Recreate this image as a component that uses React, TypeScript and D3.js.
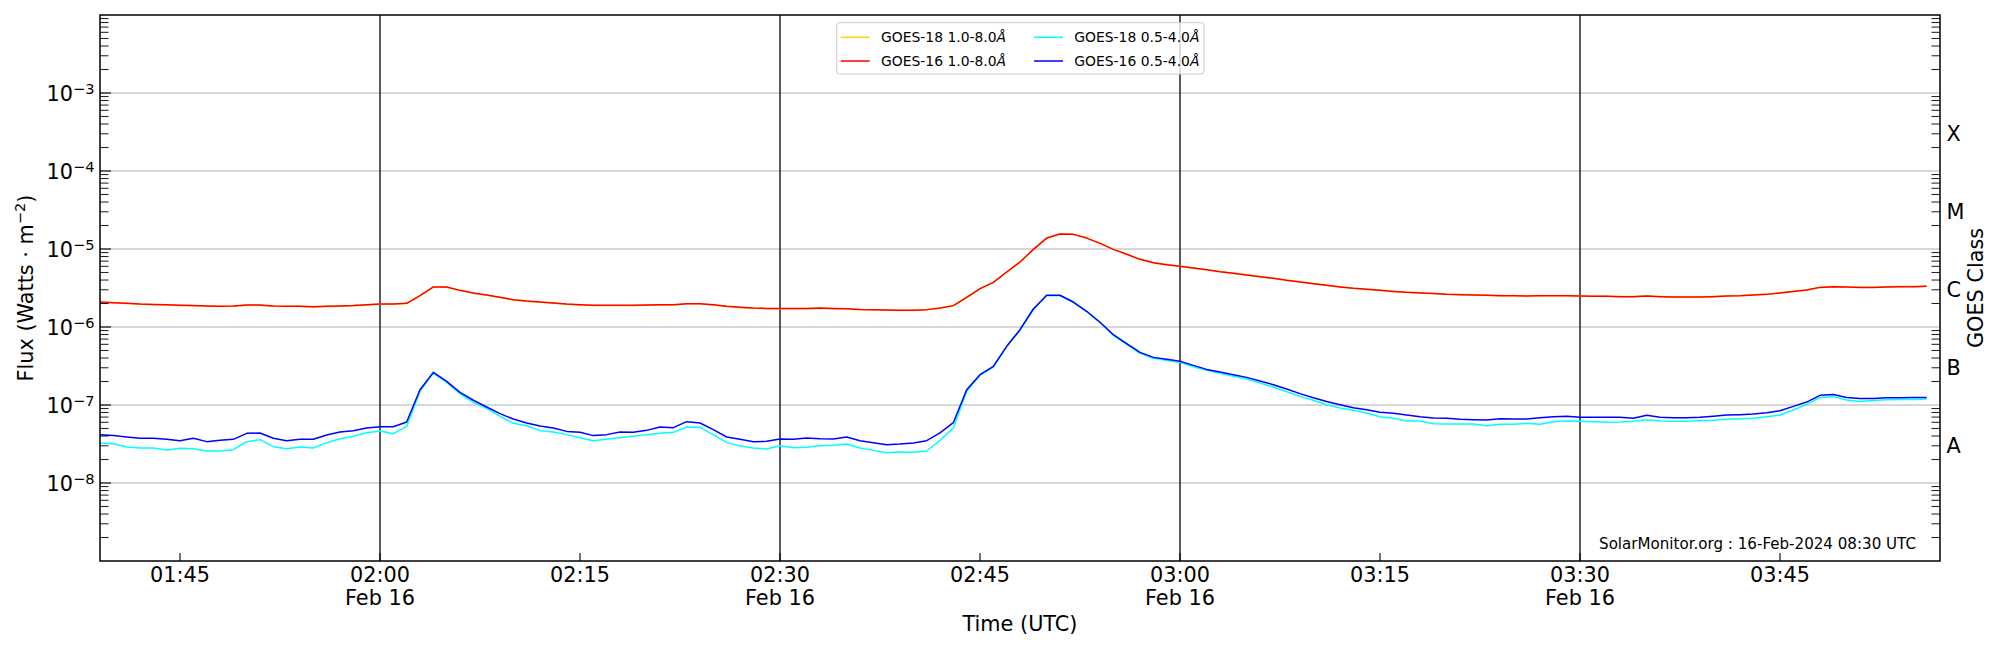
import React from "react";
import * as d3 from "d3";

// ---------- data (1-minute cadence starting 01:39 UTC, 16 Feb 2024) ----------
const START = "2024-02-16T01:39:00Z";
const DOMAIN_START = "2024-02-16T01:39:00Z";
const DOMAIN_END = "2024-02-16T03:57:00Z";

const goes18Long = [
  2.07e-6, 2.04e-6, 2.0e-6, 1.96e-6, 1.94e-6, 1.92e-6, 1.89e-6, 1.87e-6, 1.85e-6, 1.83e-6,
  1.85e-6, 1.9e-6, 1.9e-6, 1.85e-6, 1.83e-6, 1.83e-6, 1.81e-6, 1.83e-6, 1.85e-6, 1.87e-6,
  1.92e-6, 1.96e-6, 1.96e-6, 2.0e-6, 2.5e-6, 3.24e-6, 3.24e-6, 2.93e-6, 2.71e-6, 2.55e-6,
  2.38e-6, 2.22e-6, 2.14e-6, 2.08e-6, 2.02e-6, 1.96e-6, 1.92e-6, 1.89e-6, 1.89e-6, 1.89e-6,
  1.89e-6, 1.9e-6, 1.92e-6, 1.92e-6, 1.98e-6, 1.98e-6, 1.92e-6, 1.83e-6, 1.78e-6, 1.74e-6,
  1.72e-6, 1.72e-6, 1.72e-6, 1.72e-6, 1.74e-6, 1.72e-6, 1.71e-6, 1.67e-6, 1.66e-6, 1.64e-6,
  1.63e-6, 1.63e-6, 1.66e-6, 1.74e-6, 1.87e-6, 2.38e-6, 3.08e-6, 3.72e-6, 5.04e-6, 6.78e-6,
  9.85e-6, 1.37e-5, 1.57e-5, 1.55e-5, 1.39e-5, 1.19e-5, 9.95e-6, 8.6e-6, 7.4e-6, 6.7e-6,
  6.32e-6, 6.0e-6, 5.72e-6, 5.44e-6, 5.13e-6, 4.89e-6, 4.65e-6, 4.43e-6, 4.22e-6, 3.98e-6,
  3.79e-6, 3.6e-6, 3.43e-6, 3.27e-6, 3.14e-6, 3.05e-6, 2.96e-6, 2.87e-6, 2.79e-6, 2.74e-6,
  2.69e-6, 2.63e-6, 2.61e-6, 2.58e-6, 2.56e-6, 2.53e-6, 2.53e-6, 2.51e-6, 2.53e-6, 2.53e-6,
  2.53e-6, 2.51e-6, 2.48e-6, 2.48e-6, 2.46e-6, 2.46e-6, 2.51e-6, 2.46e-6, 2.43e-6, 2.43e-6,
  2.43e-6, 2.46e-6, 2.51e-6, 2.53e-6, 2.58e-6, 2.63e-6, 2.74e-6, 2.87e-6, 2.99e-6, 3.23e-6,
  3.3e-6, 3.27e-6, 3.23e-6, 3.23e-6, 3.27e-6, 3.3e-6, 3.3e-6, 3.33e-6,
];

const goes16Long = [
  2.09e-6, 2.05e-6, 2.01e-6, 1.97e-6, 1.95e-6, 1.93e-6, 1.9e-6, 1.88e-6, 1.86e-6, 1.84e-6,
  1.86e-6, 1.91e-6, 1.91e-6, 1.86e-6, 1.84e-6, 1.84e-6, 1.82e-6, 1.84e-6, 1.86e-6, 1.88e-6,
  1.93e-6, 1.97e-6, 1.97e-6, 2.01e-6, 2.52e-6, 3.26e-6, 3.26e-6, 2.95e-6, 2.73e-6, 2.57e-6,
  2.4e-6, 2.24e-6, 2.15e-6, 2.09e-6, 2.03e-6, 1.97e-6, 1.93e-6, 1.9e-6, 1.9e-6, 1.9e-6,
  1.9e-6, 1.91e-6, 1.93e-6, 1.93e-6, 1.99e-6, 1.99e-6, 1.93e-6, 1.84e-6, 1.79e-6, 1.75e-6,
  1.73e-6, 1.73e-6, 1.73e-6, 1.73e-6, 1.75e-6, 1.73e-6, 1.72e-6, 1.68e-6, 1.67e-6, 1.65e-6,
  1.64e-6, 1.64e-6, 1.67e-6, 1.75e-6, 1.88e-6, 2.4e-6, 3.1e-6, 3.74e-6, 5.07e-6, 6.81e-6,
  9.9e-6, 1.38e-5, 1.56e-5, 1.54e-5, 1.38e-5, 1.18e-5, 9.9e-6, 8.55e-6, 7.37e-6, 6.68e-6,
  6.3e-6, 5.99e-6, 5.71e-6, 5.43e-6, 5.12e-6, 4.88e-6, 4.64e-6, 4.42e-6, 4.21e-6, 3.97e-6,
  3.78e-6, 3.59e-6, 3.42e-6, 3.26e-6, 3.13e-6, 3.04e-6, 2.95e-6, 2.86e-6, 2.78e-6, 2.73e-6,
  2.68e-6, 2.62e-6, 2.6e-6, 2.57e-6, 2.55e-6, 2.52e-6, 2.52e-6, 2.5e-6, 2.52e-6, 2.52e-6,
  2.52e-6, 2.5e-6, 2.47e-6, 2.47e-6, 2.45e-6, 2.45e-6, 2.5e-6, 2.45e-6, 2.42e-6, 2.42e-6,
  2.42e-6, 2.45e-6, 2.5e-6, 2.52e-6, 2.57e-6, 2.62e-6, 2.73e-6, 2.86e-6, 2.98e-6, 3.22e-6,
  3.29e-6, 3.26e-6, 3.22e-6, 3.22e-6, 3.26e-6, 3.29e-6, 3.29e-6, 3.32e-6,
];

const goes18Short = [
  3.26e-8, 3.19e-8, 2.89e-8, 2.81e-8, 2.81e-8, 2.65e-8, 2.78e-8, 2.75e-8, 2.57e-8, 2.57e-8,
  2.67e-8, 3.39e-8, 3.59e-8, 2.92e-8, 2.75e-8, 2.89e-8, 2.81e-8, 3.29e-8, 3.7e-8, 3.97e-8,
  4.42e-8, 4.64e-8, 4.29e-8, 5.32e-8, 1.5e-7, 2.57e-7, 1.95e-7, 1.4e-7, 1.08e-7, 9.06e-8,
  7.16e-8, 5.82e-8, 5.43e-8, 4.69e-8, 4.51e-8, 4.17e-8, 3.81e-8, 3.49e-8, 3.63e-8, 3.81e-8,
  3.97e-8, 4.17e-8, 4.33e-8, 4.46e-8, 5.22e-8, 5.17e-8, 4.17e-8, 3.32e-8, 2.98e-8, 2.81e-8,
  2.73e-8, 3.01e-8, 2.84e-8, 2.87e-8, 3.01e-8, 3.04e-8, 3.16e-8, 2.81e-8, 2.62e-8, 2.45e-8,
  2.5e-8, 2.47e-8, 2.57e-8, 3.52e-8, 5.07e-8, 1.5e-7, 2.41e-7, 3.07e-7, 5.6e-7, 9.15e-7,
  1.68e-6, 2.52e-6, 2.52e-6, 2.07e-6, 1.58e-6, 1.14e-6, 7.82e-7, 5.99e-7, 4.59e-7, 3.97e-7,
  3.74e-7, 3.52e-7, 3.1e-7, 2.78e-7, 2.55e-7, 2.33e-7, 2.15e-7, 1.91e-7, 1.7e-7, 1.48e-7,
  1.29e-7, 1.15e-7, 1.01e-7, 9.15e-8, 8.55e-8, 7.89e-8, 7.08e-8, 6.75e-8, 6.24e-8, 6.24e-8,
  5.76e-8, 5.71e-8, 5.71e-8, 5.71e-8, 5.43e-8, 5.65e-8, 5.65e-8, 5.82e-8, 5.65e-8, 6.11e-8,
  6.24e-8, 6.17e-8, 6.11e-8, 6.0e-8, 6.05e-8, 6.17e-8, 6.49e-8, 6.24e-8, 6.17e-8, 6.17e-8,
  6.3e-8, 6.36e-8, 6.55e-8, 6.68e-8, 6.75e-8, 7.08e-8, 7.44e-8, 8.63e-8, 1.02e-7, 1.25e-7,
  1.28e-7, 1.16e-7, 1.11e-7, 1.14e-7, 1.17e-7, 1.18e-7, 1.18e-7, 1.19e-7,
];

const goes16Short = [
  4.17e-8, 4.05e-8, 3.89e-8, 3.74e-8, 3.74e-8, 3.63e-8, 3.49e-8, 3.74e-8, 3.39e-8, 3.52e-8,
  3.63e-8, 4.33e-8, 4.38e-8, 3.74e-8, 3.49e-8, 3.63e-8, 3.63e-8, 4.12e-8, 4.51e-8, 4.69e-8,
  5.07e-8, 5.27e-8, 5.27e-8, 6.05e-8, 1.57e-7, 2.62e-7, 2.01e-7, 1.45e-7, 1.15e-7, 9.42e-8,
  7.74e-8, 6.61e-8, 5.88e-8, 5.38e-8, 5.07e-8, 4.59e-8, 4.46e-8, 4.05e-8, 4.17e-8, 4.51e-8,
  4.46e-8, 4.73e-8, 5.22e-8, 5.12e-8, 6.11e-8, 5.88e-8, 4.83e-8, 3.89e-8, 3.63e-8, 3.39e-8,
  3.42e-8, 3.66e-8, 3.63e-8, 3.78e-8, 3.7e-8, 3.66e-8, 3.89e-8, 3.49e-8, 3.29e-8, 3.1e-8,
  3.16e-8, 3.26e-8, 3.49e-8, 4.38e-8, 5.93e-8, 1.57e-7, 2.45e-7, 3.13e-7, 5.65e-7, 9.24e-7,
  1.7e-6, 2.55e-6, 2.55e-6, 2.09e-6, 1.59e-6, 1.15e-6, 7.97e-7, 6.11e-7, 4.73e-7, 4.08e-7,
  3.85e-7, 3.63e-7, 3.22e-7, 2.86e-7, 2.65e-7, 2.45e-7, 2.26e-7, 2.03e-7, 1.82e-7, 1.6e-7,
  1.4e-7, 1.24e-7, 1.11e-7, 1.01e-7, 9.24e-8, 8.71e-8, 8.05e-8, 7.82e-8, 7.44e-8, 7.08e-8,
  6.81e-8, 6.75e-8, 6.55e-8, 6.49e-8, 6.43e-8, 6.68e-8, 6.61e-8, 6.61e-8, 6.88e-8, 7.08e-8,
  7.16e-8, 6.95e-8, 6.95e-8, 6.95e-8, 6.95e-8, 6.75e-8, 7.37e-8, 6.95e-8, 6.88e-8, 6.88e-8,
  6.95e-8, 7.16e-8, 7.44e-8, 7.52e-8, 7.66e-8, 7.97e-8, 8.46e-8, 9.61e-8, 1.09e-7, 1.33e-7,
  1.36e-7, 1.25e-7, 1.21e-7, 1.21e-7, 1.24e-7, 1.24e-7, 1.25e-7, 1.25e-7,
];

const seriesNames = ["GOES-18 1.0-8.0", "GOES-16 1.0-8.0", "GOES-18 0.5-4.0", "GOES-16 0.5-4.0"];
const seriesColors = ["#ffd700", "#ff0000", "#00ffff", "#0000ff"];

const yTickExponents = [-8, -7, -6, -5, -4, -3];
const classLabels = ["A", "B", "C", "M", "X"];
const classLevels = [3e-8, 3e-7, 3e-6, 3e-5, 3e-4];
const dateLabel = "Feb 16";
const creditText = "SolarMonitor.org : 16-Feb-2024 08:30 UTC";

// ---------- layout ----------
const W = 2000;
const H = 650;
const L = 100;
const R = 1940;
const T = 15;
const B = 561;
const FONT = "DejaVu Sans, Verdana, sans-serif";
const FS = 20.8;
const FS_SUP = 14.6;

export default function App() {
  const x = d3
    .scaleUtc()
    .domain([new Date(DOMAIN_START), new Date(DOMAIN_END)])
    .range([L, R]);
  const y = d3.scaleLog().domain([1e-9, 1e-2]).range([B, T]);

  const t0 = new Date(START).getTime();
  const times = goes16Long.map((_, i) => new Date(t0 + i * 60000));

  const line = d3
    .line<number>()
    .x((_, i) => x(times[i]))
    .y((v) => y(v));

  const allSeries = [goes18Long, goes16Long, goes18Short, goes16Short];

  const majorTicks = yTickExponents.map((e) => Math.pow(10, e));
  const minorTicks: number[] = [];
  for (let e = -9; e <= -3; e++) {
    for (let m = 2; m <= 9; m++) minorTicks.push(m * Math.pow(10, e));
  }

  const xTicks = x.ticks(d3.utcMinute.every(15) as any);
  const vLines = x.ticks(d3.utcMinute.every(30) as any);
  const fmt = d3.utcFormat("%H:%M");

  const legendX = 836.7;
  const legendY = 22.7;
  const legendW = 367.3;
  const legendH = 51.3;
  const colX = [0, 193.3];
  const rowY = [14.6, 38.3];

  return (
    <svg
      width={W}
      height={H}
      style={{ position: "absolute", left: 0, top: 0, background: "#fff" }}
      fontFamily={FONT}
    >
      <rect x={0} y={0} width={W} height={H} fill="#fff" />

      {/* grid */}
      {majorTicks.map((v) => (
        <line key={"g" + v} x1={L} x2={R} y1={y(v)} y2={y(v)} stroke="#b0b0b0" strokeWidth={1.1} />
      ))}

      {/* vertical lines at half hours */}
      {vLines.map((d) => (
        <line key={"v" + d.getTime()} x1={x(d)} x2={x(d)} y1={T} y2={B} stroke="#000" strokeWidth={1.3} />
      ))}

      {/* data */}
      <g clipPath="url(#clip)">
        {allSeries.map((s, i) => (
          <path key={"s" + i} d={line(s) || ""} fill="none" stroke={seriesColors[i]} strokeWidth={1.5} strokeLinejoin="round" />
        ))}
      </g>
      <defs>
        <clipPath id="clip">
          <rect x={L} y={T} width={R - L} height={B - T} />
        </clipPath>
      </defs>

      {/* left ticks */}
      {majorTicks.map((v) => (
        <line key={"lm" + v} x1={L} x2={L + 11} y1={y(v)} y2={y(v)} stroke="#000" strokeWidth={1.1} />
      ))}
      {minorTicks.map((v) => (
        <g key={"mn" + v}>
          <line x1={L} x2={L + 8.5} y1={y(v)} y2={y(v)} stroke="#000" strokeWidth={0.9} />
          <line x1={R} x2={R - 8.5} y1={y(v)} y2={y(v)} stroke="#000" strokeWidth={0.9} />
        </g>
      ))}

      {/* bottom ticks */}
      {xTicks.map((d) => (
        <line key={"xt" + d.getTime()} x1={x(d)} x2={x(d)} y1={B} y2={B - 8} stroke="#000" strokeWidth={1.1} />
      ))}

      {/* frame */}
      <rect x={L} y={T} width={R - L} height={B - T} fill="none" stroke="#000" strokeWidth={1.5} />

      {/* y tick labels */}
      {yTickExponents.map((e) => (
        <text key={"yl" + e} x={94.5} y={y(Math.pow(10, e)) + 8.4} fontSize={FS} textAnchor="end" fill="#000">
          10
          <tspan dy={-7.7} fontSize={FS_SUP}>
            {"\u2212" + Math.abs(e)}
          </tspan>
        </text>
      ))}

      {/* x tick labels */}
      {xTicks.map((d) => (
        <text key={"xl" + d.getTime()} x={x(d)} y={581.7} fontSize={FS} textAnchor="middle" fill="#000">
          {fmt(d)}
          {d.getUTCMinutes() % 30 === 0 ? (
            <tspan x={x(d)} y={604.5}>
              {dateLabel}
            </tspan>
          ) : null}
        </text>
      ))}

      {/* axis labels */}
      <text x={(L + R) / 2} y={631} fontSize={FS} textAnchor="middle" fill="#000">
        Time (UTC)
      </text>
      <text transform={`translate(32.5,${(T + B) / 2}) rotate(-90)`} fontSize={FS} textAnchor="middle" fill="#000">
        Flux (Watts · m
        <tspan dy={-7.7} fontSize={FS_SUP}>
          {"\u22122"}
        </tspan>
        <tspan dy={7.7}>)</tspan>
      </text>

      {/* GOES class labels */}
      {classLabels.map((c, i) => (
        <text key={"c" + c} x={1946.5} y={y(classLevels[i]) + 7.6} fontSize={FS} fill="#000">
          {c}
        </text>
      ))}
      <text transform={`translate(1983,${(T + B) / 2}) rotate(-90)`} fontSize={FS} textAnchor="middle" fill="#000">
        GOES Class
      </text>

      {/* credit */}
      <text x={1916} y={549} fontSize={15.1} textAnchor="end" fill="#000">
        {creditText}
      </text>

      {/* legend */}
      <g transform={`translate(${legendX},${legendY})`}>
        <rect x={0} y={0} width={legendW} height={legendH} rx={3} ry={3} fill="#fff" fillOpacity={0.8} stroke="#cccccc" strokeWidth={1} />
        {seriesNames.map((n, i) => {
          const col = Math.floor(i / 2);
          const row = i % 2;
          const cx = colX[col];
          const cy = rowY[row];
          return (
            <g key={"lg" + i}>
              <line x1={cx + 4} x2={cx + 33} y1={cy} y2={cy} stroke={seriesColors[i]} strokeWidth={1.5} />
              <text x={cx + 44.3} y={cy + 5} fontSize={13.9} fill="#000">
                {n}
                <tspan fontStyle="italic">Å</tspan>
              </text>
            </g>
          );
        })}
      </g>
    </svg>
  );
}
